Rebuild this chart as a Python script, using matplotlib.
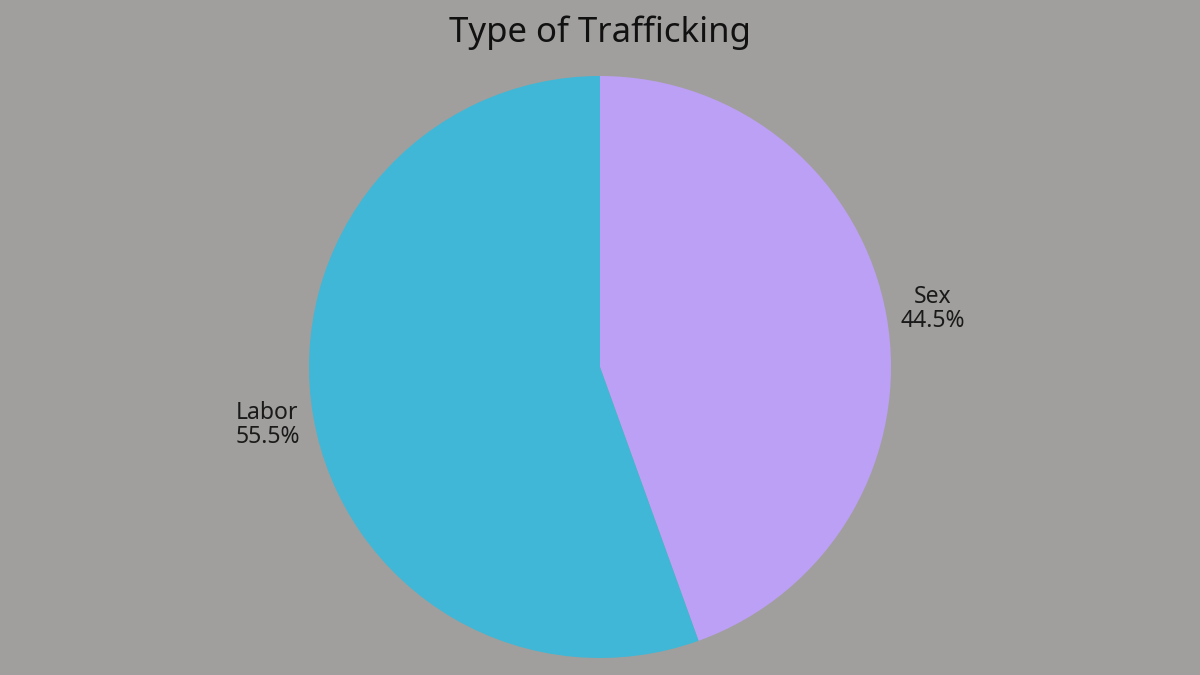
import matplotlib
matplotlib.use('Agg')
import matplotlib.pyplot as plt

labels = ['Sex', 'Labor']
shares = [44.5, 55.5]
colors = ['#bca0f5', '#40b7d6']

plt.rcParams['font.family'] = ['Noto Sans', 'DejaVu Sans']

fig = plt.figure(figsize=(12, 6.75), dpi=100, facecolor='#a09f9d')
# pie radius ~291px, centred at (600, 367) from top-left
ax = fig.add_axes([309 / 1200, 17 / 675, 582 / 1200, 582 / 675])
ax.set_facecolor('#a09f9d')

wedges, texts = ax.pie(shares, colors=colors, startangle=90, counterclock=False,
                       radius=1, labeldistance=1.16,
                       labels=[f'{l}\n{v}%' for l, v in zip(labels, shares)],
                       textprops={'fontsize': 16.5, 'color': '#1a1a1a', 'ha': 'center',
                                  'va': 'center', 'linespacing': 1.05})
ax.set_xlim(-1, 1)
ax.set_ylim(-1, 1)
ax.set_aspect('equal')
ax.axis('off')

fig.text(0.5, 1 - 33 / 675, 'Type of Trafficking', ha='center', va='center',
         fontsize=25, color='#111111')

fig.savefig('out.png', dpi=100, facecolor=fig.get_facecolor())
